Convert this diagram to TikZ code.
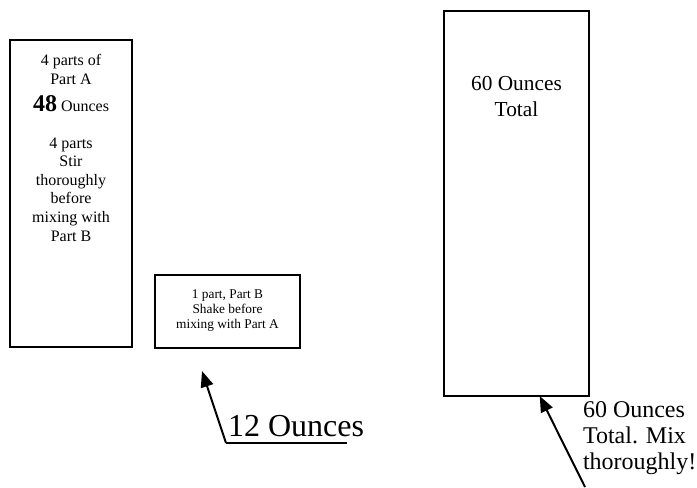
\documentclass[tikz,border=0pt]{standalone}
\usepackage{fontspec}
\setmainfont{Liberation Serif}
\usetikzlibrary{arrows.meta,calc}
\begin{document}
\begin{tikzpicture}[x=0.75pt,y=-0.75pt,
  box/.style={draw,line width=1.5pt,inner sep=0pt,outer sep=0pt},
  txt/.style={inner sep=0pt,outer sep=0pt,anchor=base},
  lft/.style={inner sep=0pt,outer sep=0pt,anchor=base west},
  arr/.style={line width=1.5pt,-{Triangle[length=12pt,width=9.5pt]}},
  fa/.style={font=\fontsize{12}{14}\selectfont},
  fb/.style={font=\fontsize{10}{12}\selectfont},
  fc/.style={font=\fontsize{16}{19}\selectfont},
  fd/.style={font=\fontsize{18}{21}\selectfont},
  fe/.style={font=\fontsize{24}{28}\selectfont}]
\useasboundingbox (0,0) rectangle (697,487);
% boxes
\node[box,minimum width=91.5pt,minimum height=230.25pt] (boxA) at (71,193.5) {};
\node[box,minimum width=108.75pt,minimum height=54.75pt] (boxB) at (227.5,311.5) {};
\node[box,minimum width=108.75pt,minimum height=288.75pt] (boxT) at (516.5,203.5) {};
% left box text
\node[txt,fa] (a1) at (71,65) {4 parts of};
\node[txt,fa] (a2) at (71,84) {Part A};
\node[txt,fa] (a3) at (71,111) {{\fontsize{18}{21}\selectfont\bfseries 48} Ounces};
\foreach \t [count=\i] in {4 parts,Stir,thoroughly,before,mixing with,Part B}
  \node[txt,fa] (b\i) at ({71},{148+18.6*(\i-1)}) {\t};
% small box text
\node[txt,fb] (c1) at (227.5,298.5) {1 part, Part B};
\node[txt,fb] (c2) at (227.5,313.5) {Shake before};
\node[txt,fb] (c3) at (227.5,328.5) {mixing with Part A};
% right box text
\node[txt,fc] (d1) at (516.5,90) {60 Ounces};
\node[txt,fc] (d2) at (516.5,116) {Total};
% 12 ounces label and arrow
\node[lft,fe] (twelve) at (228,436) {12 Ounces};
\coordinate (tipB) at (202,371);
\coordinate (kneeB) at (226,443);
\coordinate (endB) at (347,443);
\draw[line width=1.5pt] (endB) -- (kneeB);
\draw[arr] (kneeB) -- (tipB);
% right label and arrow
\node[lft,fd] (e1) at (583,417) {60 Ounces};
\node[lft,fd] (e2) at (583,443) {Total. Mix};
\node[lft,fd] (e3) at (583,469) {thoroughly!};
\coordinate (tailT) at (585,487);
\draw[arr] (tailT) -- ($(boxT.south west)!0.66!(boxT.south east)$);
\end{tikzpicture}
\end{document}
